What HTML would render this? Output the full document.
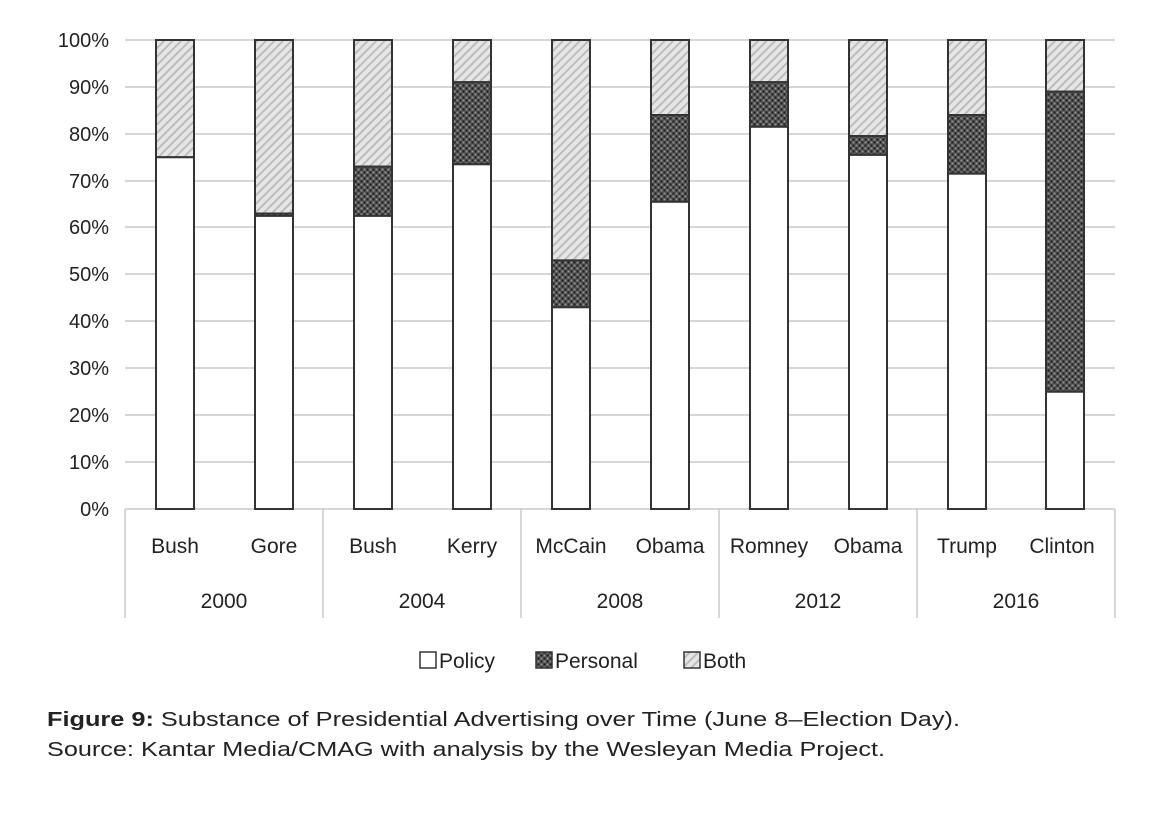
<!DOCTYPE html>
<html><head><meta charset="utf-8"><style>body{margin:0;background:#fff}svg{display:block}</style></head><body>
<svg width="1160" height="813" viewBox="0 0 1160 813" xmlns="http://www.w3.org/2000/svg" font-family="Liberation Sans, Arial, sans-serif">
<defs>
<pattern id="hatch" width="6" height="6" patternUnits="userSpaceOnUse" patternTransform="rotate(45)">
<rect width="6" height="6" fill="#e6e6e6"/><rect width="2" height="6" fill="#bdbdbd"/></pattern>
<pattern id="dots" width="6" height="6" patternUnits="userSpaceOnUse">
<rect width="6" height="6" fill="#5a5a5a"/><circle cx="1.5" cy="1.5" r="1.2" fill="#222"/><circle cx="4.5" cy="4.5" r="1.2" fill="#222"/><circle cx="4.5" cy="1.5" r="0.9" fill="#999"/><circle cx="1.5" cy="4.5" r="0.9" fill="#999"/></pattern>
</defs>
<g stroke="#c8c8c8" stroke-width="1.5">
<line x1="125" x2="1115" y1="40" y2="40"/><line x1="125" x2="1115" y1="87" y2="87"/><line x1="125" x2="1115" y1="134" y2="134"/><line x1="125" x2="1115" y1="181" y2="181"/><line x1="125" x2="1115" y1="227" y2="227"/><line x1="125" x2="1115" y1="274" y2="274"/><line x1="125" x2="1115" y1="321" y2="321"/><line x1="125" x2="1115" y1="368" y2="368"/><line x1="125" x2="1115" y1="415" y2="415"/><line x1="125" x2="1115" y1="462" y2="462"/><line x1="125" x2="1115" y1="509" y2="509"/>
<line x1="125" x2="125" y1="509" y2="618"/><line x1="323" x2="323" y1="509" y2="618"/><line x1="521" x2="521" y1="509" y2="618"/><line x1="719" x2="719" y1="509" y2="618"/><line x1="917" x2="917" y1="509" y2="618"/><line x1="1115" x2="1115" y1="509" y2="618"/>
</g>
<g font-size="20" fill="#222" text-anchor="end">
<text x="109" y="47">100%</text><text x="109" y="94">90%</text><text x="109" y="141">80%</text><text x="109" y="188">70%</text><text x="109" y="234">60%</text><text x="109" y="281">50%</text><text x="109" y="328">40%</text><text x="109" y="375">30%</text><text x="109" y="422">20%</text><text x="109" y="469">10%</text><text x="109" y="516">0%</text>
</g>
<g stroke="#333" stroke-width="2">
<rect x="156" y="40" width="38" height="117.25" fill="url(#hatch)"/>
<rect x="156" y="157.25" width="38" height="351.75" fill="#fff"/>

<rect x="255" y="40" width="38" height="173.5" fill="url(#hatch)"/>
<rect x="255" y="213.5" width="38" height="2.4" fill="url(#dots)"/>
<rect x="255" y="215.9" width="38" height="293.1" fill="#fff"/>

<rect x="354" y="40" width="38" height="126.6" fill="url(#hatch)"/>
<rect x="354" y="166.6" width="38" height="49.3" fill="url(#dots)"/>
<rect x="354" y="215.9" width="38" height="293.1" fill="#fff"/>

<rect x="453" y="40" width="38" height="42.2" fill="url(#hatch)"/>
<rect x="453" y="82.2" width="38" height="82.1" fill="url(#dots)"/>
<rect x="453" y="164.3" width="38" height="344.7" fill="#fff"/>

<rect x="552" y="40" width="38" height="220.4" fill="url(#hatch)"/>
<rect x="552" y="260.4" width="38" height="46.9" fill="url(#dots)"/>
<rect x="552" y="307.3" width="38" height="201.7" fill="#fff"/>

<rect x="651" y="40" width="38" height="75" fill="url(#hatch)"/>
<rect x="651" y="115" width="38" height="86.8" fill="url(#dots)"/>
<rect x="651" y="201.8" width="38" height="307.2" fill="#fff"/>

<rect x="750" y="40" width="38" height="42.2" fill="url(#hatch)"/>
<rect x="750" y="82.2" width="38" height="44.6" fill="url(#dots)"/>
<rect x="750" y="126.8" width="38" height="382.2" fill="#fff"/>

<rect x="849" y="40" width="38" height="96.1" fill="url(#hatch)"/>
<rect x="849" y="136.1" width="38" height="18.8" fill="url(#dots)"/>
<rect x="849" y="154.9" width="38" height="354.1" fill="#fff"/>

<rect x="948" y="40" width="38" height="75" fill="url(#hatch)"/>
<rect x="948" y="115" width="38" height="58.7" fill="url(#dots)"/>
<rect x="948" y="173.7" width="38" height="335.3" fill="#fff"/>

<rect x="1046" y="40" width="38" height="51.6" fill="url(#hatch)"/>
<rect x="1046" y="91.6" width="38" height="300.15" fill="url(#dots)"/>
<rect x="1046" y="391.75" width="38" height="117.25" fill="#fff"/>
</g>
<g font-size="21" fill="#222" text-anchor="middle">
<text x="175" y="553">Bush</text><text x="274" y="553">Gore</text><text x="373" y="553">Bush</text><text x="472" y="553">Kerry</text><text x="571" y="553">McCain</text><text x="670" y="553">Obama</text><text x="769" y="553">Romney</text><text x="868" y="553">Obama</text><text x="967" y="553">Trump</text><text x="1062" y="553">Clinton</text>
<text x="224" y="608">2000</text><text x="422" y="608">2004</text><text x="620" y="608">2008</text><text x="818" y="608">2012</text><text x="1016" y="608">2016</text>
</g>
<g stroke="#333" stroke-width="1.5">
<rect x="420" y="652" width="16" height="16" fill="#fff"/>
<rect x="536" y="652" width="16" height="16" fill="url(#dots)"/>
<rect x="684" y="652" width="16" height="16" fill="url(#hatch)"/>
</g>
<g font-size="21" fill="#222">
<text x="439" y="668">Policy</text><text x="555" y="668">Personal</text><text x="703" y="668">Both</text>
</g>
<g font-size="20" fill="#222">
<text x="47" y="726" textLength="913" lengthAdjust="spacingAndGlyphs"><tspan font-weight="bold">Figure 9:</tspan>  Substance of Presidential Advertising over Time (June 8–Election Day).</text>
<text x="47" y="756" textLength="838" lengthAdjust="spacingAndGlyphs">Source: Kantar Media/CMAG with analysis by the Wesleyan Media Project.</text>
</g>
</svg>
</body></html>
